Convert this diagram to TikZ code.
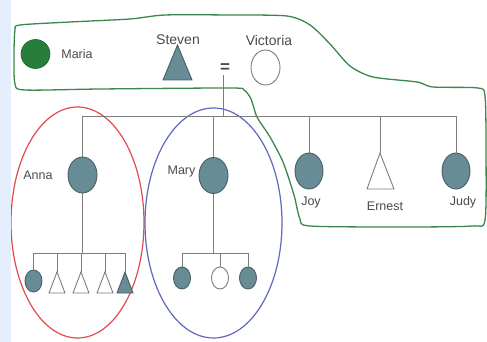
\documentclass[tikz,border=0pt]{standalone}
\usepackage{fontspec}
\setmainfont{Liberation Sans}
\usetikzlibrary{shapes.geometric}
\definecolor{stripcol}{RGB}{228,238,252}
\definecolor{pedfill}{RGB}{104,140,150}
\definecolor{edgecol}{RGB}{70,95,102}
\definecolor{linegray}{RGB}{125,125,125}
\definecolor{labelgray}{RGB}{75,75,75}
\definecolor{mariagreen}{RGB}{38,125,60}
\definecolor{outlinegreen}{RGB}{60,135,75}
\definecolor{ellred}{RGB}{225,75,75}
\definecolor{ellblue}{RGB}{95,105,190}
\begin{document}
\begin{tikzpicture}[x=1pt,y=-1pt,
  lbl/.style={text=labelgray, font=\fontsize{12.5}{14}\selectfont, inner sep=0},
  lblbig/.style={text=labelgray, font=\fontsize{14}{16}\selectfont, inner sep=0},
  aff/.style={ellipse, draw=edgecol, fill=pedfill, line width=0.9pt, inner sep=0},
  unaff/.style={ellipse, draw=linegray, fill=white, line width=0.9pt, inner sep=0},
  bigsym/.style={minimum width=29, minimum height=36},
  smallsym/.style={minimum width=17, minimum height=22},
  link/.style={draw=linegray, line width=1pt},
  tri/.style={line width=0.9pt}]
\useasboundingbox (0,0) rectangle (487,342);
\fill[white] (0,0) rectangle (487,342);

% grouping ellipses
\draw[ellred, line width=1.2pt] (77.5,222.5) ellipse [x radius=66.5, y radius=115.5];
\draw[ellblue, line width=1.2pt] (213.5,223) ellipse [x radius=68.5, y radius=115];

% green outline
\draw[outlinegreen, line width=1.3pt] plot[smooth cycle, tension=0.45] coordinates {
 (20,25) (70,22) (130,19) (165,15) (230,15) (287,16) (310,25) (330,44) (350,66)
 (373,77) (417,82) (433,87) (478,88) (485,96) (486,150) (485,220) (472,226)
 (400,227) (310,226) (300,219) (294,195) (283,162) (270,137) (257,117) (251,99)
 (244,90) (230,88) (100,89) (25,90) (15,84) (14,55) (15,30)};

% top generation
\node[ellipse, fill=mariagreen, draw=mariagreen!80!black, line width=0.6pt, minimum width=29, minimum height=29, inner sep=0] (maria) at (35.5,54) {};
\node[lbl] (marialbl) at (77,54) {Maria};
\coordinate (steven) at (177.5,45);
\filldraw[tri, draw=edgecol, fill=pedfill] (steven) -- ++(-14.5,35) -- ++(29,0) -- cycle;
\node[lblbig] (stevenlbl) at (178,40) {Steven};
\node[inner sep=0, text=labelgray, font=\fontsize{17}{18}\bfseries] (eq) at (225,68) {=};
\node[unaff, minimum width=29, minimum height=35] (victoria) at (265.5,67.5) {};
\node[lblbig] (victorialbl) at (269,40) {Victoria};
\coordinate (cpl) at (223,75);
\coordinate (sibl) at (0,117);

% second generation
\node[aff, bigsym] (anna) at (82.5,175) {};
\node[lbl] (annalbl) at (38,175) {Anna};
\node[aff, bigsym] (mary) at (213.5,175.5) {};
\node[lbl] (marylbl) at (181.5,171) {Mary};
\node[aff, minimum width=28, minimum height=36] (joy) at (309,171) {};
\node[lbl] (joylbl) at (311,202) {Joy};
\coordinate (ernest) at (380,153);
\draw[tri, draw=linegray, fill=white] (ernest) -- ++(-13,36) -- ++(27,0) -- cycle;
\node[lbl] (ernestlbl) at (385,206) {Ernest};
\node[aff, minimum width=28, minimum height=36] (judy) at (456,171) {};
\node[lbl] (judylbl) at (463,202) {Judy};

\draw[link] (cpl) -- (cpl |- sibl);
\draw[link] (anna.north) -- (anna.north |- sibl) -- (judy.north |- sibl) -- (judy.north);
\draw[link] (mary.north) -- (mary.north |- sibl);
\draw[link] (joy.north) -- (joy.north |- sibl);
\draw[link] (ernest) -- (ernest |- sibl);

% Anna's children
\coordinate (abar) at (0,253);
\node[aff, smallsym] (a1) at (33.5,281) {};
\coordinate (a2) at (57,272);
\coordinate (a3) at (81,272);
\coordinate (a4) at (105,272);
\coordinate (a5) at (125,272);
\draw[tri, draw=linegray, fill=white] (a2) -- ++(-8,21) -- ++(16,0) -- cycle;
\draw[tri, draw=linegray, fill=white] (a3) -- ++(-8,21) -- ++(16,0) -- cycle;
\draw[tri, draw=linegray, fill=white] (a4) -- ++(-8,21) -- ++(16,0) -- cycle;
\filldraw[tri, draw=edgecol, fill=pedfill] (a5) -- ++(-8,21) -- ++(16,0) -- cycle;
\draw[link] (anna.south) -- (anna.south |- abar);
\draw[link] (a1.north) -- (a1.north |- abar) -- (a5 |- abar) -- (a5);
\draw[link] (a2) -- (a2 |- abar);
\draw[link] (a3) -- (a3 |- abar);
\draw[link] (a4) -- (a4 |- abar);

% Mary's children
\node[aff, smallsym] (m1) at (182,278) {};
\node[unaff, smallsym] (m2) at (220,278) {};
\node[aff, smallsym] (m3) at (248,278) {};
\draw[link] (mary.south) -- (mary.south |- abar);
\draw[link] (m1.north) -- (m1.north |- abar) -- (m3.north |- abar) -- (m3.north);
\draw[link] (m2.north) -- (m2.north |- abar);

% left strip
\fill[stripcol] (0,0) rectangle (11,342);
\end{tikzpicture}
\end{document}
